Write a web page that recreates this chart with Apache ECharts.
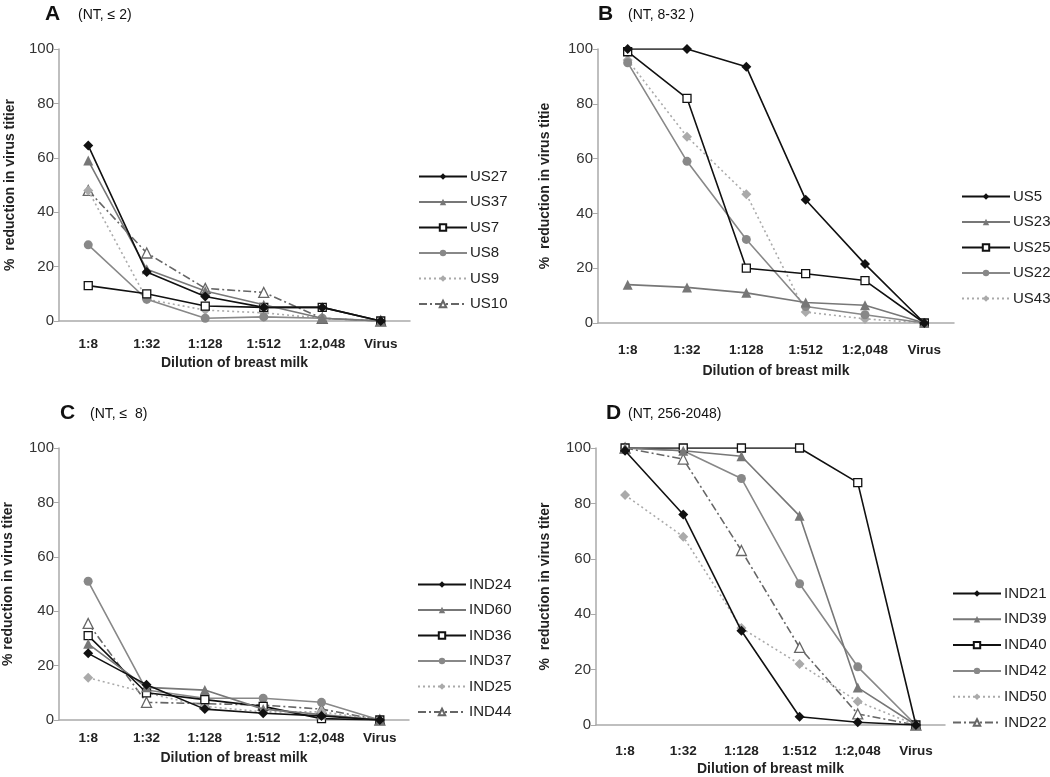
<!DOCTYPE html>
<html><head><meta charset="utf-8">
<script src="https://cdn.jsdelivr.net/npm/echarts@6/dist/echarts.min.js"></script>
<style>html,body{margin:0;padding:0;background:#fff}#c{width:1050px;height:777px}</style>
</head><body><div id="c"></div>
<script>
const categories = ['1:8','1:32','1:128','1:512','1:2,048','Virus'];
const yTicks = [0,20,40,60,80,100];

const namesA = ['US27','US37','US7','US8','US9','US10'];
const US27 = [64.5,18,9,5,5,0];
const US37 = [59,19,11,6,1,0];
const US7  = [13,10,5.5,5,5,0];
const US8  = [28,8,1,1.5,1,0];
const US9  = [48,8,4,3,1,0];
const US10 = [48,25,12,10.5,1,0];

const namesB = ['US5','US23','US25','US22','US43'];
const US5  = [100,100,93.5,45,21.5,0];
const US23 = [14,13,11,7.5,6.5,0];
const US25 = [99,82,20,18,15.5,0];
const US22 = [95,59,30.5,6,3,0];
const US43 = [96,68,47,4,1.5,0];

const namesC = ['IND24','IND60','IND36','IND37','IND25','IND44'];
const IND24 = [24.5,13,4,2.5,1.5,0];
const IND60 = [28,12,11,4,2,0];
const IND36 = [31,10,7.5,5,0.5,0];
const IND37 = [51,11,8,8,6.5,0];
const IND25 = [15.5,10,5,3,3,0];
const IND44 = [35.5,6.5,6,5.5,4,0];

const namesD = ['IND21','IND39','IND40','IND42','IND50','IND22'];
const IND21 = [99,76,34,3,1,0];
const IND39 = [100,99,97,75.5,13.5,0];
const IND40 = [100,100,100,100,87.5,0];
const IND42 = [100,99,89,51,21,0];
const IND50 = [83,68,35,22,8.5,0];
const IND22 = [100,96,63,28,4,0];

const panels = [
  {letter:'A', sub:'(NT, \u2264 2)', yname:'%  reduction in virus titier', names:namesA, data:[US27,US37,US7,US8,US9,US10],
   grid:{left:59,top:49,width:351,height:272}, legend:{left:418,top:169,gap:10.5}, lx:45, ly:4, sx:78,
   xlm:16, xng:35, yng:42},
  {letter:'B', sub:'(NT, 8-32 )', yname:'%  reduction in virus titie', names:namesB, data:[US5,US23,US25,US22,US43],
   grid:{left:598,top:49,width:356,height:274}, legend:{left:961,top:189,gap:10.5}, lx:598, ly:4, sx:628,
   xlm:20, xng:41, yng:46},
  {letter:'C', sub:'(NT, \u2264  8)', yname:'% reduction in virus titer', names:namesC, data:[IND24,IND60,IND36,IND37,IND25,IND44],
   grid:{left:59,top:448,width:350,height:272}, legend:{left:417,top:577,gap:10.5}, lx:60, ly:403, sx:90,
   xlm:11, xng:31, yng:44},
  {letter:'D', sub:'(NT, 256-2048)', yname:'%  reduction in virus titer', names:namesD, data:[IND21,IND39,IND40,IND42,IND50,IND22],
   grid:{left:596,top:448,width:349,height:279}, legend:{left:952,top:586,gap:10.8}, lx:606, ly:403, sx:628,
   xlm:19, xng:37, yng:44}
];

const styles = [
  {color:'#111', type:'solid', symbol:'diamond', size:10, fill:'#111'},
  {color:'#777', type:'solid', symbol:'triangle', size:10, fill:'#777'},
  {color:'#111', type:'solid', symbol:'rect', size:8, fill:'#fff'},
  {color:'#888', type:'solid', symbol:'circle', size:9, fill:'#888'},
  {color:'#aaa', type:[2,3], symbol:'diamond', size:10, fill:'#aaa'},
  {color:'#666', type:[8,3,2,3], symbol:'triangle', size:10, fill:'#fff'}
];

const FONT = '"Liberation Sans", Arial, sans-serif';
const grids=[], xAxes=[], yAxes=[], series=[], legends=[], graphics=[];
panels.forEach((p,i)=>{
  grids.push(p.grid);
  xAxes.push({type:'category', gridIndex:i, data:categories, boundaryGap:true,
    axisLine:{lineStyle:{color:'#aaa',width:1.5}}, axisTick:{alignWithLabel:true,length:5,lineStyle:{color:'#aaa'}},
    axisLabel:{interval:0, hideOverlap:false, fontFamily:FONT,fontWeight:'bold',fontSize:13.5,color:'#222',margin:p.xlm},
    name:'Dilution of breast milk', nameLocation:'middle', nameGap:p.xng,
    nameTextStyle:{fontFamily:FONT,fontWeight:'bold',fontSize:14,color:'#222'}});
  yAxes.push({type:'value', gridIndex:i, min:0, max:100, interval:20,
    axisLine:{show:true,lineStyle:{color:'#aaa',width:1.5}}, axisTick:{show:true,length:5,lineStyle:{color:'#aaa'}},
    splitLine:{show:false},
    axisLabel:{fontFamily:FONT,fontSize:15,color:'#333',margin:5},
    name:p.yname, nameLocation:'middle', nameGap:p.yng,
    nameTextStyle:{fontFamily:FONT,fontWeight:'bold',fontSize:14,color:'#222'}});
  p.names.forEach((n,k)=>{
    const s=styles[k];
    series.push({type:'line', name:n, xAxisIndex:i, yAxisIndex:i, data:p.data[k],
      symbol:s.symbol, symbolSize:s.size, showAllSymbol:true,
      lineStyle:{color:s.color,width:1.6,type:s.type},
      itemStyle:{color:s.fill,borderColor:s.color,borderWidth:s.fill==='#fff'?1.3:0},
      z: 10-k});
  });
  legends.push({orient:'vertical', left:p.legend.left, top:p.legend.top, data:p.names, padding:0,
    itemWidth:48, itemHeight:8, itemGap:p.legend.gap, selectedMode:false,
    textStyle:{fontFamily:FONT,fontSize:15,color:'#222',padding:[0,0,0,-2]}});
  graphics.push({type:'text', left:p.lx, top:p.ly, style:{text:p.letter, font:'bold 21px '+FONT, fill:'#111'}});
  graphics.push({type:'text', left:p.sx, top:p.ly+4, style:{text:p.sub, font:'14px '+FONT, fill:'#111'}});
});

const chart = echarts.init(document.getElementById('c'));
chart.setOption({animation:false, backgroundColor:'#fff', grid:grids, xAxis:xAxes, yAxis:yAxes, series:series, legend:legends, graphic:graphics});
</script></body></html>
